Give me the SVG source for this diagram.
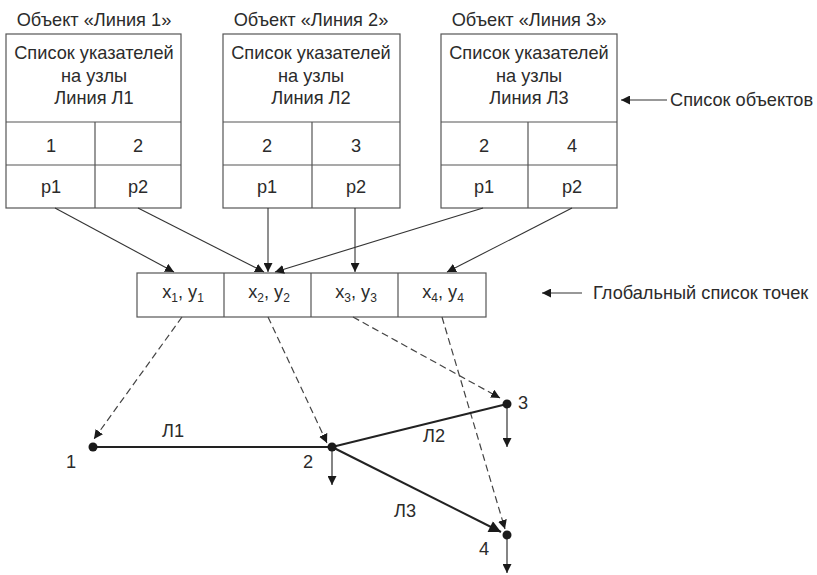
<svg xmlns="http://www.w3.org/2000/svg" width="817" height="575" viewBox="0 0 817 575">
  <defs>
    <style>
      text { font-family: "Liberation Sans", Arial, sans-serif; font-size: 18.2px; fill: #2b2b2b; }
      .c { text-anchor: middle; }
      .sub { font-size: 12px; }
      .box { fill: #ffffff; stroke: #555555; stroke-width: 1.2; }
      .div { stroke: #555555; stroke-width: 1.2; fill: none; }
      .link { stroke: #333333; stroke-width: 1.1; fill: none; marker-end: url(#tri); }
      .dash { stroke: #444444; stroke-width: 1.2; fill: none; stroke-dasharray: 7 4; marker-end: url(#tri); }
      .edge { stroke: #222222; stroke-width: 2; fill: none; }
      .down { stroke: #333333; stroke-width: 1.2; fill: none; marker-end: url(#tri); }
      .dot { fill: #1a1a1a; }
    </style>
    <marker id="tri" viewBox="0 0 10 10" refX="10" refY="5" markerWidth="9" markerHeight="9" markerUnits="userSpaceOnUse" orient="auto">
      <path d="M0,0 L10,5 L0,10 z" fill="#1a1a1a"/>
    </marker>
    <marker id="triBig" viewBox="0 0 10 10" refX="10" refY="5" markerWidth="14" markerHeight="12" markerUnits="userSpaceOnUse" orient="auto">
      <path d="M0,0 L10,5 L0,10 z" fill="#1a1a1a"/>
    </marker>
  </defs>

  <!-- line objects -->
  <g id="line1">
    <text class="c" x="94" y="26">Объект «Линия 1»</text>
    <rect class="box" x="6" y="34" width="175" height="174"/>
    <path class="div" d="M6,122 H181 M6,165 H181 M95,122 V208"/>
    <text class="c" x="94" y="59">Список указателей</text>
    <text class="c" x="94" y="82">на узлы</text>
    <text class="c" x="94" y="104">Линия Л1</text>
    <text class="c" x="51" y="152">1</text>
    <text class="c" x="138" y="152">2</text>
    <text class="c" x="51" y="193">p1</text>
    <text class="c" x="138" y="193">p2</text>
  </g>

  <g id="line2">
    <text class="c" x="311" y="26">Объект «Линия 2»</text>
    <rect class="box" x="223" y="34" width="177" height="174"/>
    <path class="div" d="M223,122 H400 M223,165 H400 M312,122 V208"/>
    <text class="c" x="311" y="59">Список указателей</text>
    <text class="c" x="311" y="82">на узлы</text>
    <text class="c" x="311" y="104">Линия Л2</text>
    <text class="c" x="267" y="152">2</text>
    <text class="c" x="356" y="152">3</text>
    <text class="c" x="267" y="193">p1</text>
    <text class="c" x="356" y="193">p2</text>
  </g>

  <g id="line3">
    <text class="c" x="529" y="26">Объект «Линия 3»</text>
    <rect class="box" x="441" y="34" width="176" height="174"/>
    <path class="div" d="M441,122 H617 M441,165 H617 M528,122 V208"/>
    <text class="c" x="529" y="59">Список указателей</text>
    <text class="c" x="529" y="82">на узлы</text>
    <text class="c" x="529" y="104">Линия Л3</text>
    <text class="c" x="484" y="152">2</text>
    <text class="c" x="572" y="152">4</text>
    <text class="c" x="484" y="193">p1</text>
    <text class="c" x="572" y="193">p2</text>
  </g>

  <!-- global point list -->
  <g id="points">
    <rect class="box" x="137" y="273" width="349" height="44"/>
    <path class="div" d="M224,273 V317 M311,273 V317 M398,273 V317"/>
    <text class="c" x="183" y="298">x<tspan class="sub" dy="4">1</tspan><tspan dy="-4">, y</tspan><tspan class="sub" dy="4">1</tspan></text>
    <text class="c" x="269" y="298">x<tspan class="sub" dy="4">2</tspan><tspan dy="-4">, y</tspan><tspan class="sub" dy="4">2</tspan></text>
    <text class="c" x="356" y="298">x<tspan class="sub" dy="4">3</tspan><tspan dy="-4">, y</tspan><tspan class="sub" dy="4">3</tspan></text>
    <text class="c" x="443" y="298">x<tspan class="sub" dy="4">4</tspan><tspan dy="-4">, y</tspan><tspan class="sub" dy="4">4</tspan></text>
  </g>

  <!-- side captions -->
  <g id="caption-objects">
    <line class="link" x1="667" y1="100" x2="621" y2="100"/>
    <text x="670" y="106">Список объектов</text>
  </g>
  <g id="caption-points">
    <line class="link" x1="582" y1="293" x2="542" y2="293"/>
    <text x="593" y="299">Глобальный список точек</text>
  </g>

  <!-- connectors -->
  <g id="connectors">
    <line class="link" x1="55" y1="208" x2="174" y2="272"/>
    <line class="link" x1="138" y1="208" x2="264" y2="272"/>
    <line class="link" x1="268" y1="208" x2="268" y2="272"/>
    <line class="link" x1="355" y1="208" x2="355" y2="272"/>
    <line class="link" x1="483" y1="208" x2="275" y2="272"/>
    <line class="link" x1="572" y1="208" x2="447" y2="272"/>

    <line class="dash" x1="182" y1="317" x2="94" y2="439"/>
    <line class="dash" x1="268" y1="317" x2="327" y2="443"/>
    <line class="dash" x1="353" y1="317" x2="500" y2="398"/>
    <line class="dash" x1="442" y1="317" x2="505" y2="529"/>
  </g>

  <!-- geometry: nodes and segments -->
  <g id="geometry">
    <line class="edge" x1="93" y1="447" x2="332" y2="447"/>
    <line class="edge" x1="332" y1="447" x2="507" y2="404"/>
    <line class="edge" x1="332" y1="447" x2="501" y2="532" marker-end="url(#triBig)"/>
    <line class="down" x1="332" y1="447" x2="332" y2="485"/>
    <line class="down" x1="507" y1="404" x2="507" y2="447"/>
    <line class="down" x1="507" y1="535" x2="507" y2="573"/>
  </g>
  <g id="node1">
    <circle class="dot" cx="93" cy="447" r="4.5"/>
    <text x="66" y="468">1</text>
  </g>
  <g id="node2">
    <circle class="dot" cx="332" cy="447" r="4.5"/>
    <text x="303" y="468">2</text>
  </g>
  <g id="node3">
    <circle class="dot" cx="507" cy="404" r="4.5"/>
    <text x="518" y="409">3</text>
  </g>
  <g id="node4">
    <circle class="dot" cx="507" cy="535" r="4.5"/>
    <text x="479" y="555">4</text>
  </g>
  <g id="edge-labels">
    <text x="162" y="437">Л1</text>
    <text x="423" y="442">Л2</text>
    <text x="394" y="517">Л3</text>
  </g>
</svg>
